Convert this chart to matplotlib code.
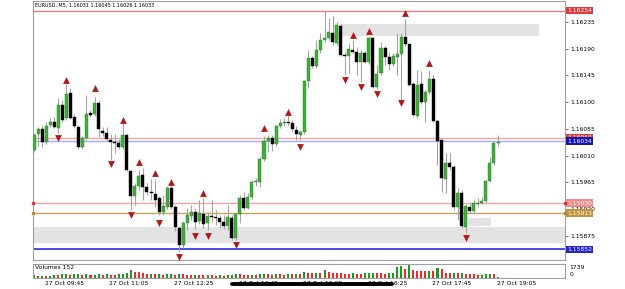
import numpy as np
import matplotlib.pyplot as plt
from matplotlib.lines import Line2D
import matplotlib.transforms as mtransforms

# EURUSD M5 bars, 27 Oct 09:30 .. 19:05
opens = [1.16019, 1.16046, 1.16055, 1.16033, 1.16061, 1.16066, 1.16056, 1.16095, 1.16073, 1.16115,
         1.16075, 1.16058, 1.16024, 1.16040, 1.16082, 1.16080, 1.16098, 1.16051, 1.16048, 1.16036,
         1.16033, 1.16031, 1.16024, 1.16045, 1.15984, 1.15942, 1.15959, 1.15977, 1.15957, 1.15949,
         1.15945, 1.15938, 1.15915, 1.15923, 1.15955, 1.15923, 1.15888, 1.15859, 1.15896, 1.15908,
         1.15915, 1.15900, 1.15911, 1.15896, 1.15908, 1.15906, 1.15905, 1.15898, 1.15891, 1.15905,
         1.15871, 1.15911, 1.15938, 1.15922, 1.15940, 1.15965, 1.15965, 1.16004, 1.16034, 1.16040,
         1.16029, 1.16060, 1.16065, 1.16066, 1.16065, 1.16053, 1.16045, 1.16050, 1.16135, 1.16174,
         1.16161, 1.16188, 1.16205, 1.16208, 1.16216, 1.16200, 1.16228, 1.16179, 1.16178, 1.16188,
         1.16184, 1.16168, 1.16183, 1.16168, 1.16208, 1.16125, 1.16149, 1.16191, 1.16176, 1.16164,
         1.16176, 1.16181, 1.16210, 1.16198, 1.16130, 1.16077, 1.16130, 1.16100, 1.16117, 1.16139,
         1.16068, 1.16036, 1.15970, 1.15997, 1.15991, 1.15923, 1.15947, 1.15890, 1.15923, 1.15917,
         1.15928, 1.15930, 1.15933, 1.15967, 1.15997, 1.16031]
highs = [1.16048, 1.16058, 1.16061, 1.16066, 1.16073, 1.16075, 1.16107, 1.16103, 1.16130, 1.16124,
         1.16080, 1.16061, 1.16043, 1.16112, 1.16087, 1.16109, 1.16102, 1.16058, 1.16058, 1.16046,
         1.16046, 1.16038, 1.16065, 1.16046, 1.15986, 1.15964, 1.15986, 1.15989, 1.15964, 1.15970,
         1.15969, 1.15942, 1.15943, 1.15959, 1.15959, 1.15927, 1.15891, 1.15900, 1.15922, 1.15927,
         1.15922, 1.15935, 1.15938, 1.15915, 1.15935, 1.15918, 1.15910, 1.15910, 1.15927, 1.15910,
         1.15913, 1.15943, 1.15949, 1.15947, 1.15969, 1.15972, 1.16008, 1.16043, 1.16045, 1.16045,
         1.16061, 1.16071, 1.16073, 1.16078, 1.16070, 1.16060, 1.16053, 1.16137, 1.16188, 1.16178,
         1.16205, 1.16216, 1.16254, 1.16242, 1.16245, 1.16235, 1.16232, 1.16184, 1.16200, 1.16205,
         1.16193, 1.16188, 1.16186, 1.16211, 1.16210, 1.16163, 1.16201, 1.16195, 1.16184, 1.16183,
         1.16216, 1.16216, 1.16240, 1.16198, 1.16134, 1.16154, 1.16152, 1.16120, 1.16154, 1.16146,
         1.16070, 1.16038, 1.16014, 1.16014, 1.15994, 1.15955, 1.15952, 1.15928, 1.15930, 1.15935,
         1.15938, 1.15940, 1.15969, 1.16008, 1.16034, 1.16045]
lows = [1.16016, 1.16024, 1.16024, 1.16029, 1.16058, 1.16056, 1.16048, 1.16066, 1.16070, 1.16071,
        1.16056, 1.16021, 1.16021, 1.16036, 1.16075, 1.16077, 1.16041, 1.16043, 1.16034, 1.16002,
        1.16014, 1.16021, 1.16021, 1.15984, 1.15918, 1.15927, 1.15952, 1.15935, 1.15943, 1.15935,
        1.15923, 1.15910, 1.15910, 1.15920, 1.15920, 1.15883, 1.15847, 1.15854, 1.15884, 1.15901,
        1.15886, 1.15895, 1.15888, 1.15884, 1.15898, 1.15893, 1.15888, 1.15886, 1.15884, 1.15868,
        1.15868, 1.15896, 1.15918, 1.15920, 1.15937, 1.15959, 1.15957, 1.16001, 1.16016, 1.16018,
        1.16026, 1.16056, 1.16060, 1.16061, 1.16050, 1.16036, 1.16036, 1.16046, 1.16124, 1.16157,
        1.16157, 1.16183, 1.16201, 1.16205, 1.16196, 1.16196, 1.16178, 1.16146, 1.16149, 1.16183,
        1.16146, 1.16134, 1.16166, 1.16164, 1.16124, 1.16122, 1.16146, 1.16163, 1.16154, 1.16161,
        1.16146, 1.16103, 1.16195, 1.16127, 1.16075, 1.16073, 1.16097, 1.16066, 1.16114, 1.16066,
        1.15994, 1.15949, 1.15947, 1.15986, 1.15918, 1.15901, 1.15888, 1.15879, 1.15913, 1.15913,
        1.15925, 1.15928, 1.15930, 1.15965, 1.15994, 1.16026]
closes = [1.16045, 1.16055, 1.16033, 1.16060, 1.16066, 1.16058, 1.16095, 1.16070, 1.16114, 1.16073,
          1.16060, 1.16024, 1.16040, 1.16080, 1.16078, 1.16098, 1.16055, 1.16048, 1.16038, 1.16033,
          1.16031, 1.16024, 1.16045, 1.15986, 1.15942, 1.15959, 1.15976, 1.15957, 1.15949, 1.15947,
          1.15935, 1.15915, 1.15925, 1.15955, 1.15923, 1.15890, 1.15859, 1.15896, 1.15910, 1.15915,
          1.15898, 1.15913, 1.15895, 1.15908, 1.15906, 1.15905, 1.15898, 1.15891, 1.15906, 1.15871,
          1.15911, 1.15938, 1.15922, 1.15940, 1.15965, 1.15967, 1.16004, 1.16034, 1.16040, 1.16029,
          1.16060, 1.16065, 1.16066, 1.16065, 1.16055, 1.16046, 1.16050, 1.16135, 1.16174, 1.16161,
          1.16188, 1.16205, 1.16208, 1.16218, 1.16201, 1.16230, 1.16179, 1.16178, 1.16189, 1.16184,
          1.16168, 1.16183, 1.16168, 1.16208, 1.16125, 1.16147, 1.16191, 1.16176, 1.16164, 1.16178,
          1.16181, 1.16210, 1.16198, 1.16129, 1.16078, 1.16129, 1.16100, 1.16117, 1.16139, 1.16068,
          1.16034, 1.15972, 1.15997, 1.15991, 1.15923, 1.15947, 1.15891, 1.15925, 1.15917, 1.15930,
          1.15930, 1.15933, 1.15967, 1.15997, 1.16031, 1.16033]
volumes = [340, 300, 320, 280, 300, 420, 380, 460, 500, 420,
           480, 520, 450, 560, 400, 430, 480, 420, 500, 450,
           400, 480, 520, 700, 1000, 820, 720, 640, 500, 560,
           480, 540, 430, 470, 520, 450, 500, 460, 400, 360,
           440, 390, 350, 410, 370, 300, 340, 310, 380, 440,
           500, 460, 410, 360, 400, 350, 480, 520, 470, 400,
           560, 480, 430, 500, 460, 540, 480, 720, 680, 640,
           700, 660, 1000, 720, 650, 640, 600, 580, 550, 600,
           580, 560, 620, 660, 700, 640, 600, 560, 600, 640,
           1460, 1600, 1150, 1739, 1000, 950, 920, 880, 900, 860,
           1240, 1150, 640, 620, 660, 600, 640, 560, 500, 460,
           420, 450, 480, 520, 500, 152]

# fractal arrows
up_arrow_bars = [8, 15, 22, 26, 30, 34, 42, 57, 63, 79, 83, 92, 98]
up_arrow_prices = [1.16137, 1.16124, 1.16070, 1.15999, 1.15981, 1.15965, 1.15947,
                   1.16057, 1.16083, 1.16213, 1.16220, 1.16250, 1.16166]
down_arrow_bars = [6, 19, 24, 31, 36, 40, 43, 50, 66, 77, 81, 85, 91, 107]
down_arrow_prices = [1.16040, 1.15996, 1.15910, 1.15896, 1.15839, 1.15874, 1.15874,
                     1.15859, 1.16024, 1.16137, 1.16125, 1.16114, 1.16098, 1.15871]

# horizontal levels with their price boxes
level_prices = [1.16254, 1.16040, 1.16034, 1.15930, 1.15913, 1.15852]
level_colors = ['#f07a7a', '#f4a6a6', '#aaaaee', '#f4a6a6', '#c9a35e', '#4a4aee']
box_colors = ['#e23a3a', '#e23a3a', '#1414b4', '#f28a8a', '#c2923c', '#2323d2']

# grey zones (bar from, bar to, top, bottom)
zone_start = [75.8, -1.0, 107.6]
zone_end = [125.2, 140.0, 113.3]
zone_top = [1.16232, 1.15890, 1.15905]
zone_bottom = [1.16211, 1.15863, 1.15891]

price_ticks = [1.16235, 1.16190, 1.16145, 1.16100, 1.16055, 1.16010, 1.15965, 1.15920, 1.15875]
time_bars = [3, 19, 35, 51, 67, 83, 99, 115]
time_labels = ['27 Oct 09:45', '27 Oct 11:05', '27 Oct 12:25', '27 Oct 13:45',
               '27 Oct 15:05', '27 Oct 16:25', '27 Oct 17:45', '27 Oct 19:05']

W, H = 625, 289
fig = plt.figure(figsize=(W / 100, H / 100), dpi=100)
fs = 4.3
grey = '#a0a0a0'


def box(l, t, r, b):
    return [l / W, 1 - b / H, (r - l) / W, (b - t) / H]


ax = fig.add_axes(box(33, 1, 565, 260))
axv = fig.add_axes(box(33, 264, 565, 278))
for a in (ax, axv):
    for s in a.spines.values():
        s.set_color(grey)
        s.set_linewidth(0.8)
    a.set_xlim(-0.25, 131.6)

x = np.arange(len(opens))
o, hi, lo, c = map(np.array, (opens, highs, lows, closes))
bull = c > o

# zones
for xs, xe, zt, zb in zip(zone_start, zone_end, zone_top, zone_bottom):
    ax.fill_between([xs, xe], zb, zt, color='#e3e3e3', lw=0, zorder=0.5)

# levels
for p, col in zip(level_prices, level_colors):
    ax.axhline(p, color=col, lw=1.0 if col != '#4a4aee' else 1.4, zorder=1)

# candles
ax.vlines(x, lo, hi, color='#a4a4a4', lw=0.8, zorder=2)
body_lo = np.minimum(o, c)
body_h = np.maximum(np.abs(c - o), 0.000016)
ax.bar(x[bull], body_h[bull], bottom=body_lo[bull], width=0.75,
       color='#41ad3a', edgecolor='#2b7f28', lw=0.3, zorder=3)
ax.bar(x[~bull], body_h[~bull], bottom=body_lo[~bull], width=0.75,
       color='black', edgecolor='black', lw=0.3, zorder=3)

ax.scatter(up_arrow_bars, up_arrow_prices, marker='^', s=24, color='#ad1a1a',
           lw=0, zorder=4)
ax.scatter(down_arrow_bars, down_arrow_prices, marker='v', s=24, color='#ad1a1a',
           lw=0, zorder=4)

ax.set_ylim(1.158340, 1.162703)
ax.set_xticks([])
ax.yaxis.tick_right()
ax.set_yticks(price_ticks)
ax.set_yticklabels(['%.5f' % p for p in price_ticks])
ax.tick_params(axis='y', length=2.5, width=0.6, color='#606060', labelsize=fs, pad=1.2)

trans = mtransforms.blended_transform_factory(ax.transAxes, ax.transData)
for i, (p, bc) in enumerate(zip(level_prices, box_colors)):
    ax.text(1.004, p, '%.5f' % p, transform=trans, color='white', fontsize=fs,
            ha='left', va='center', clip_on=False, zorder=10 + i,
            bbox=dict(boxstyle='square,pad=0.22', fc=bc, ec='none'))
for p, bc in zip([1.15930, 1.15913], ['#e03030', '#b88a20']):
    ax.scatter([0, 1.0], [p, p], transform=trans, s=2.5, color=bc, zorder=20, clip_on=False)

ax.text(0.004, 0.982, 'EURUSD, M5, 1.16031 1.16045 1.16026 1.16033', transform=ax.transAxes,
        fontsize=3.5, ha='left', va='center')

# volumes panel, green when higher than the previous bar
vol = np.array(volumes)
vol_up = np.r_[True, vol[1:] > vol[:-1]]
axv.bar(x[vol_up], vol[vol_up], width=0.5, color='#1f961f', lw=0)
axv.bar(x[~vol_up], vol[~vol_up], width=0.5, color='#f02828', lw=0)
axv.set_ylim(0, vol.max() * 1.05)
axv.set_xticks([])
axv.set_yticks([])
axv.text(0.004, 0.78, 'Volumes %d' % volumes[-1], transform=axv.transAxes,
         fontsize=fs, ha='left', va='center')
axv.text(1.008, 0.78, '%d' % vol.max(), transform=axv.transAxes, fontsize=fs,
         ha='left', va='center', clip_on=False)
axv.text(1.008, 0.25, '0', transform=axv.transAxes, fontsize=fs,
         ha='left', va='center', clip_on=False)

tx = mtransforms.blended_transform_factory(axv.transData, axv.transAxes)
for b, lab in zip(time_bars, time_labels):
    axv.text(b - 0.3, -0.36, lab, transform=tx, fontsize=fs, ha='left', va='center',
             clip_on=False)

# redaction stroke over part of the time axis
fig.add_artist(Line2D([232 / W, 392 / W], [1 - 283.5 / H] * 2, lw=2.8, color='black',
                      solid_capstyle='round'))

fig.savefig('out.png', dpi=100)
